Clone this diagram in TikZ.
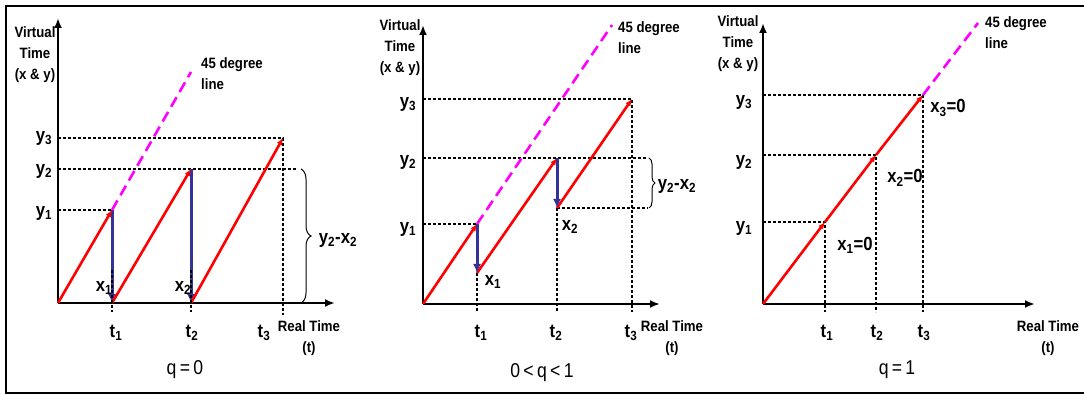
\documentclass[tikz,border=0pt]{standalone}
\usepackage{fontspec}
\setmainfont{Liberation Sans}[FakeStretch=0.88]
\usetikzlibrary{arrows.meta,positioning,decorations.pathreplacing}

\definecolor{vtred}{RGB}{255,0,0}
\definecolor{vtblue}{RGB}{51,51,153}
\definecolor{vtpink}{RGB}{255,0,255}

\begin{document}
\begin{tikzpicture}[
  x=1pt, y=-1pt,
  axis/.style={line width=2pt, -{Latex[length=10pt,width=8pt]}},
  run/.style={line width=2.6pt, draw=vtred, -{Latex[length=7pt,width=6pt]}},
  drop/.style={line width=3pt, draw=vtblue, -{Latex[length=9pt,width=8pt]}},
  guide/.style={line width=1.4pt, dash pattern=on 3pt off 2pt},
  diag/.style={line width=2.6pt, draw=vtpink, dash pattern=on 11pt off 6pt},
  gap/.style={decorate, decoration={brace, amplitude=#1}, line width=1pt},
  lbl/.style={font=\fontsize{19}{21}\selectfont\bfseries, inner sep=0pt},
  axlbl/.style={font=\fontsize{15}{21}\selectfont\bfseries, align=center, inner sep=0pt},
  deglbl/.style={font=\fontsize{15}{21}\selectfont\bfseries, align=left, inner sep=0pt, anchor=west},
  reallbl/.style={font=\fontsize{15}{21}\selectfont\bfseries, align=center, inner sep=0pt},
  qlbl/.style={font=\fontsize{20}{22}\selectfont, inner sep=0pt}
]
\useasboundingbox (0,0) rectangle (1084,395);
\draw[line width=1.6pt] (1084,6) -- (6,6) -- (6,393) -- (1084,393);

% q = 0
\coordinate (o1) at (58,303);
\coordinate (yt1) at (58,18);
\coordinate (xt1) at (335,303);
\coordinate (a11) at (112,303);
\coordinate (a12) at (191,303);
\coordinate (p11) at (112,210);
\coordinate (p12) at (191,169);
\coordinate (p13) at (283,138);
\coordinate (h11) at (58,210);
\coordinate (h12) at (58,169);
\coordinate (h13) at (58,138);
\coordinate (r12) at (297,169);
\coordinate (f11) at (112,270);
\coordinate (f12) at (191,270);
\coordinate (e11) at (112,312);
\coordinate (e12) at (191,312);
\coordinate (e13) at (283,315);
\coordinate (m1) at (191,72);
\coordinate (bt1) at (301,169);
\coordinate (bb1) at (301,303);

\draw[guide] (h11) -- (p11);
\draw[guide] (h12) -- (r12);
\draw[guide] (h13) -- (p13) -- (e13);
\draw[axis] (o1) -- (yt1);
\draw[axis] (o1) -- (xt1);
\draw[drop] (p11) -- (a11);
\draw[drop] (p12) -- (a12);
\draw[run] (o1) -- (p11);
\draw[run] (a11) -- (p12);
\draw[run] (a12) -- (p13);
\draw[guide] (f11) -- (e11);
\draw[guide] (f12) -- (e12);
\draw[diag] (p11) -- (m1);
\draw[gap=10pt] (bt1) -- (bb1);

\node[axlbl] (lv1) at (35,55) {Virtual\\Time\\(x \& y)};
\node[deglbl] (ld1) at (201,74) {45 degree\\line};
\node[lbl] (ly11) at (44,213) {y\textsubscript{1}};
\node[lbl] (ly12) at (44,171) {y\textsubscript{2}};
\node[lbl] (ly13) at (44,138) {y\textsubscript{3}};
\node[lbl] (lx11) at (104,288) {x\textsubscript{1}};
\node[lbl] (lx12) at (183,288) {x\textsubscript{2}};
\node[lbl] (lg1) at (338,240) {y\textsubscript{2}-x\textsubscript{2}};
\node[lbl] (lt11) at (116,333) {t\textsubscript{1}};
\node[lbl] (lt12) at (192,333) {t\textsubscript{2}};
\node[lbl] (lt13) at (264,333) {t\textsubscript{3}};
\node[reallbl] (lr1) at (309,338) {Real Time\\(t)};
\node[qlbl] (lq1) at (185,370) {q\,=\,0};

% 0 < q < 1
\coordinate (o2) at (423,304);
\coordinate (yt2) at (423,25);
\coordinate (xt2) at (660,304);
\coordinate (p21) at (477,224);
\coordinate (q21) at (477,273);
\coordinate (p22) at (557,158);
\coordinate (q22) at (557,208);
\coordinate (p23) at (632,99);
\coordinate (h21) at (423,224);
\coordinate (h22) at (423,158);
\coordinate (h23) at (423,99);
\coordinate (r22) at (648,158);
\coordinate (r23) at (648,208);
\coordinate (e21) at (477,312);
\coordinate (e22) at (557,312);
\coordinate (e23) at (632,312);
\coordinate (m2) at (612,25);
\coordinate (bt2) at (649,158);
\coordinate (bb2) at (649,208);

\draw[guide] (h21) -- (p21);
\draw[guide] (h22) -- (r22);
\draw[guide] (h23) -- (p23) -- (e23);
\draw[guide] (q22) -- (r23);
\draw[guide] (q21) -- (e21);
\draw[guide] (q22) -- (e22);
\draw[axis] (o2) -- (yt2);
\draw[axis] (o2) -- (xt2);
\draw[run] (o2) -- (p21);
\draw[run] (q21) -- (p22);
\draw[run] (q22) -- (p23);
\draw[drop] (p21) -- (q21);
\draw[drop] (p22) -- (q22);
\draw[diag] (p21) -- (m2);
\draw[gap=6pt] (bt2) -- (bb2);

\node[axlbl] (lv2) at (400,48) {Virtual\\Time\\(x \& y)};
\node[deglbl] (ld2) at (618,38) {45 degree\\line};
\node[lbl] (ly21) at (408,229) {y\textsubscript{1}};
\node[lbl] (ly22) at (408,162) {y\textsubscript{2}};
\node[lbl] (ly23) at (408,104) {y\textsubscript{3}};
\node[lbl] (lx21) at (493,282) {x\textsubscript{1}};
\node[lbl] (lx22) at (570,227) {x\textsubscript{2}};
\node[lbl] (lg2) at (677,186) {y\textsubscript{2}-x\textsubscript{2}};
\node[lbl] (lt21) at (481,333) {t\textsubscript{1}};
\node[lbl] (lt22) at (556,333) {t\textsubscript{2}};
\node[lbl] (lt23) at (631,333) {t\textsubscript{3}};
\node[reallbl] (lr2) at (672,338) {Real Time\\(t)};
\node[qlbl] (lq2) at (542,373) {0\,<\,q\,<\,1};

% q = 1
\coordinate (o3) at (763,304);
\coordinate (yt3) at (763,23);
\coordinate (xt3) at (1035,304);
\coordinate (p31) at (825,222);
\coordinate (p32) at (876,155);
\coordinate (p33) at (923,95);
\coordinate (h31) at (763,222);
\coordinate (h32) at (763,155);
\coordinate (h33) at (763,95);
\coordinate (e31) at (825,312);
\coordinate (e32) at (876,312);
\coordinate (e33) at (923,312);
\coordinate (m3) at (978,23);

\draw[guide] (h31) -- (p31) -- (e31);
\draw[guide] (h32) -- (p32) -- (e32);
\draw[guide] (h33) -- (p33) -- (e33);
\draw[axis] (o3) -- (yt3);
\draw[axis] (o3) -- (xt3);
\draw[run] (o3) -- (p31);
\draw[run] (p31) -- (p32);
\draw[run] (p32) -- (p33);
\draw[diag] (p33) -- (m3);

\node[axlbl] (lv3) at (738,44) {Virtual\\Time\\(x \& y)};
\node[deglbl] (ld3) at (985,33) {45 degree\\line};
\node[lbl] (ly31) at (744,228) {y\textsubscript{1}};
\node[lbl] (ly32) at (744,162) {y\textsubscript{2}};
\node[lbl] (ly33) at (744,102) {y\textsubscript{3}};
\node[lbl] (lx31) at (855,245) {x\textsubscript{1}=0};
\node[lbl] (lx32) at (905,178) {x\textsubscript{2}=0};
\node[lbl] (lx33) at (948,108) {x\textsubscript{3}=0};
\node[lbl] (lt31) at (827,333) {t\textsubscript{1}};
\node[lbl] (lt32) at (877,333) {t\textsubscript{2}};
\node[lbl] (lt33) at (924,333) {t\textsubscript{3}};
\node[reallbl] (lr3) at (1048,338) {Real Time\\(t)};
\node[qlbl] (lq3) at (897,370) {q\,=\,1};
\end{tikzpicture}
\end{document}
